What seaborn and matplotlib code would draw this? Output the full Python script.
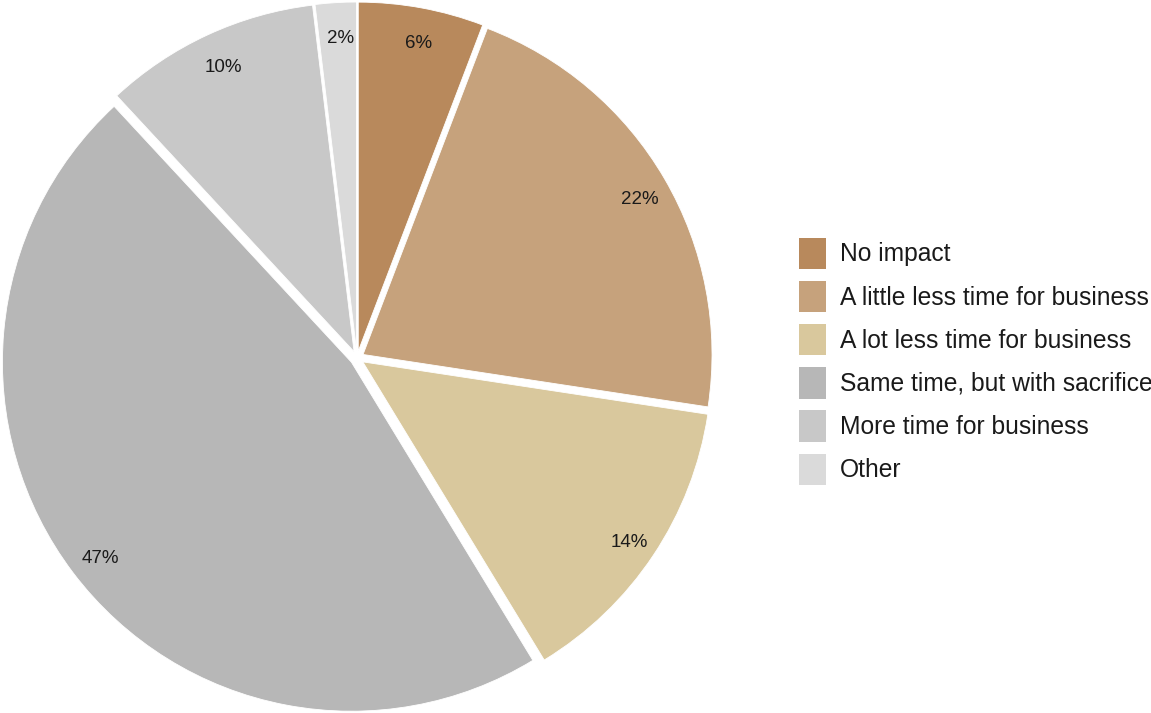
import matplotlib
matplotlib.use("Agg")
import matplotlib.pyplot as plt
import matplotlib.patches as mpatches
import matplotlib.transforms as mtransforms
import seaborn as sns

categories = [
    "No impact",
    "A little less time for business",
    "A lot less time for business",
    "Same time, but with sacrifices",
    "More time for business",
    "Other",
]
shares = [5.8, 21.6, 13.9, 46.8, 10.0, 1.9]
colors = ["#B8895C", "#C6A27C", "#D9C89D", "#B7B7B7", "#C8C8C8", "#DADADA"]

sns.set_theme(style="white")
plt.rcParams["font.family"] = ["Liberation Sans", "DejaVu Sans"]

W, H = 1151, 713
fig = plt.figure(figsize=(W / 100, H / 100), dpi=100)

# pie geometry in pixels
R = 349
cx, cy = 357, 358
lim = 1.05
side = 2 * lim * R
ax = fig.add_axes([(cx - side / 2) / W, (H - cy - side / 2) / H, side / W, side / H])

wedges, texts, autotexts = ax.pie(
    shares,
    colors=colors,
    startangle=90,
    counterclock=False,
    explode=[0.02] * len(shares),
    autopct="%.0f%%",
    pctdistance=0.91,
    wedgeprops=dict(edgecolor="white", linewidth=0.6),
    textprops=dict(fontsize=13.5, color="#1a1a1a"),
)
# percentage labels sit a touch lower/right in the original
shift = mtransforms.offset_copy(ax.transData, fig=fig, x=2.5, y=-4.5, units="dots")
for t in autotexts:
    t.set_transform(shift)

ax.set_xlim(-lim, lim)
ax.set_ylim(-lim, lim)
ax.set_aspect("equal")
ax.axis("off")

handles = [mpatches.Patch(facecolor=c, edgecolor="none", label=l)
           for c, l in zip(colors, categories)]
fig.legend(
    handles=handles,
    loc="upper left",
    bbox_to_anchor=(799 / W, 1 - 237.5 / H),
    frameon=False,
    fontsize=17.7,
    handlelength=1.1,
    handleheight=1.59,
    handletextpad=0.58,
    labelspacing=0.48,
    borderpad=0,
    borderaxespad=0,
    labelcolor="#1a1a1a",
)

fig.savefig("out.png", dpi=100)
